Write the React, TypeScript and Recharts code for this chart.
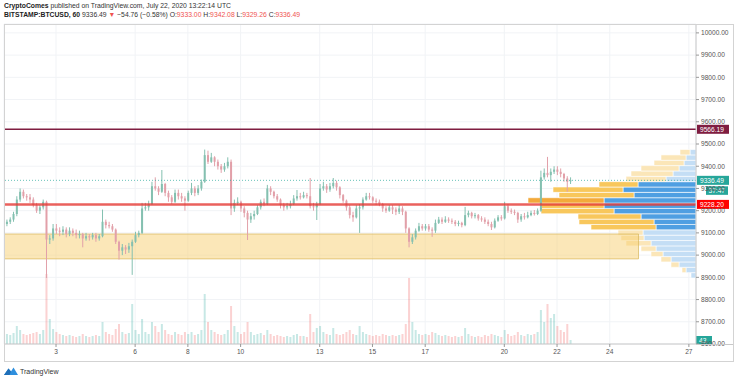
import React from "react";
import { ComposedChart, Bar, XAxis, YAxis, CartesianGrid, ReferenceLine, ReferenceArea } from "recharts";

// ---- data (3h candles from July 1 00:00 UTC) ----
const START_DAY = 1;
const CANDLES_PER_DAY = 8;

const opens = [
  9130, 9140, 9150, 9160, 9185, 9250, 9285, 9265,
  9260, 9250, 9225, 9200, 9215, 9240, 9070, 9075,
  9120, 9110, 9105, 9115, 9095, 9110, 9100, 9090,
  9095, 9075, 9085, 9080, 9090, 9075, 9085, 9150,
  9135, 9130, 9115, 9060, 9020, 9035, 9025, 9040,
  9060, 9090, 9100, 9210, 9215, 9230, 9310, 9300,
  9285, 9320, 9280, 9260, 9240, 9280, 9265, 9255,
  9245, 9280, 9300, 9280, 9300, 9330, 9450, 9420,
  9440, 9420, 9400, 9385, 9400, 9420, 9210, 9235,
  9240, 9210, 9190, 9160, 9175, 9185, 9215, 9240,
  9230, 9300, 9285, 9265, 9250, 9225, 9215, 9220,
  9230, 9255, 9265, 9260, 9270, 9265, 9220, 9215,
  9230, 9300, 9310, 9295, 9310, 9325, 9305, 9270,
  9245, 9215, 9180, 9170, 9210, 9215, 9250, 9265,
  9260, 9245, 9240, 9230, 9210, 9200, 9215, 9205,
  9195, 9210, 9195, 9120, 9060, 9080, 9110, 9130,
  9120, 9130, 9115, 9110, 9145, 9160, 9150, 9160,
  9155, 9150, 9140, 9145, 9135, 9180, 9190, 9175,
  9180, 9165, 9160, 9150, 9140, 9125, 9155, 9170,
  9165, 9220, 9200, 9195, 9190, 9160, 9175, 9170,
  9180, 9190, 9185, 9200, 9350, 9370, 9360, 9375,
  9385, 9375, 9365, 9345, 9333,
];
const highs = [
  9150, 9160, 9170, 9195, 9265, 9300, 9295, 9275,
  9275, 9260, 9235, 9225, 9250, 9245, 9090, 9140,
  9140, 9125, 9130, 9125, 9125, 9120, 9115, 9110,
  9100, 9100, 9095, 9100, 9100, 9095, 9205, 9160,
  9150, 9140, 9120, 9065, 9050, 9045, 9055, 9070,
  9105, 9110, 9235, 9235, 9245, 9330, 9350, 9310,
  9383, 9325, 9290, 9270, 9295, 9295, 9280, 9265,
  9290, 9325, 9310, 9315, 9340, 9475, 9470, 9460,
  9445, 9430, 9410, 9415, 9440, 9430, 9250, 9260,
  9245, 9220, 9200, 9190, 9200, 9225, 9250, 9255,
  9316, 9310, 9290, 9275, 9255, 9235, 9235, 9245,
  9270, 9293, 9280, 9285, 9280, 9347, 9235, 9240,
  9320, 9330, 9320, 9325, 9347, 9335, 9310, 9275,
  9250, 9225, 9195, 9225, 9230, 9260, 9280, 9280,
  9265, 9255, 9250, 9235, 9220, 9225, 9225, 9215,
  9225, 9220, 9200, 9125, 9095, 9120, 9145, 9140,
  9140, 9140, 9125, 9160, 9172, 9170, 9175, 9170,
  9165, 9158, 9155, 9150, 9217, 9200, 9195, 9190,
  9185, 9175, 9170, 9160, 9150, 9165, 9180, 9180,
  9240, 9230, 9210, 9205, 9195, 9185, 9190, 9195,
  9200, 9203, 9210, 9380, 9390, 9442, 9390, 9400,
  9400, 9390, 9370, 9355, 9350,
];
const lows = [
  9115, 9130, 9140, 9150, 9175, 9240, 9255, 9245,
  9235, 9215, 9190, 9185, 9205, 8897, 9050, 9065,
  9095, 9085, 9090, 9080, 9085, 9085, 9075, 9075,
  9035, 9065, 9065, 9070, 9060, 9065, 9080, 9120,
  9120, 9105, 9050, 8980, 9000, 9005, 9010, 8911,
  9055, 9080, 9095, 9200, 9200, 9225, 9290, 9270,
  9280, 9265, 9240, 9230, 9235, 9250, 9240, 9200,
  9240, 9270, 9265, 9270, 9290, 9325, 9410, 9415,
  9400, 9385, 9370, 9375, 9390, 9180, 9195, 9225,
  9195, 9170, 9068, 9145, 9160, 9180, 9205, 9220,
  9225, 9270, 9255, 9240, 9210, 9200, 9205, 9210,
  9225, 9245, 9250, 9255, 9255, 9210, 9200, 9158,
  9225, 9290, 9280, 9285, 9300, 9290, 9255, 9235,
  9200, 9165, 9150, 9165, 9100, 9205, 9245, 9250,
  9235, 9225, 9220, 9195, 9190, 9195, 9185, 9180,
  9185, 9180, 9100, 9035, 9050, 9070, 9105, 9110,
  9110, 9105, 9082, 9100, 9140, 9140, 9145, 9145,
  9140, 9130, 9130, 9125, 9130, 9170, 9165, 9165,
  9155, 9150, 9140, 9130, 9113, 9120, 9150, 9155,
  9160, 9190, 9185, 9180, 9145, 9150, 9160, 9165,
  9175, 9178, 9180, 9195, 9340, 9350, 9330, 9365,
  9360, 9350, 9330, 9285, 9320,
];
const closes = [
  9140, 9150, 9160, 9185, 9250, 9285, 9265, 9260,
  9250, 9225, 9200, 9215, 9240, 9070, 9075, 9120,
  9110, 9105, 9115, 9095, 9110, 9100, 9090, 9095,
  9075, 9085, 9080, 9090, 9075, 9085, 9150, 9135,
  9130, 9115, 9060, 9020, 9035, 9025, 9040, 9060,
  9090, 9100, 9210, 9215, 9230, 9310, 9300, 9285,
  9320, 9280, 9260, 9240, 9280, 9265, 9255, 9245,
  9280, 9300, 9280, 9300, 9330, 9450, 9420, 9440,
  9420, 9400, 9385, 9400, 9420, 9210, 9235, 9240,
  9210, 9190, 9160, 9175, 9185, 9215, 9240, 9230,
  9300, 9285, 9265, 9250, 9225, 9215, 9220, 9230,
  9255, 9265, 9260, 9270, 9265, 9220, 9215, 9230,
  9300, 9310, 9295, 9310, 9325, 9305, 9270, 9245,
  9215, 9180, 9170, 9210, 9215, 9250, 9265, 9260,
  9245, 9240, 9230, 9210, 9200, 9215, 9205, 9195,
  9210, 9195, 9120, 9060, 9080, 9110, 9130, 9120,
  9130, 9115, 9110, 9145, 9160, 9150, 9160, 9155,
  9150, 9140, 9145, 9135, 9180, 9190, 9175, 9180,
  9165, 9160, 9150, 9140, 9125, 9155, 9170, 9165,
  9220, 9200, 9195, 9190, 9160, 9175, 9170, 9180,
  9190, 9185, 9200, 9350, 9370, 9360, 9375, 9385,
  9375, 9365, 9345, 9330, 9336.49,
];
const volumes = [
  12, 10, 9, 11, 18, 14, 10, 9,
  10, 11, 12, 10, 14, 70, 25, 15,
  12, 10, 9, 8, 9, 8, 7, 8,
  10, 8, 7, 8, 9, 8, 22, 12,
  10, 9, 15, 20, 12, 10, 11, 40,
  14, 10, 25, 12, 10, 22, 18, 12,
  20, 14, 10, 9, 12, 10, 9, 12,
  10, 12, 9, 10, 14, 50, 22, 14,
  12, 10, 9, 10, 14, 38, 18, 12,
  10, 12, 22, 12, 9, 10, 11, 9,
  14, 10, 8, 9, 8, 7, 8, 7,
  9, 10, 8, 8, 7, 30, 12, 16,
  18, 12, 10, 9, 16, 10, 9, 10,
  12, 14, 10, 9, 18, 12, 10, 9,
  8, 9, 8, 10, 9, 8, 9, 8,
  9, 10, 20, 66, 22, 14, 10, 9,
  10, 9, 12, 11, 9, 8, 9, 8,
  7, 8, 7, 8, 16, 10, 8, 7,
  8, 7, 9, 8, 10, 9, 8, 7,
  14, 10, 8, 9, 12, 9, 8, 10,
  9, 10, 12, 34, 22, 40, 26, 30,
  18, 14, 12, 20, 4,
];
const lastVolumeLabel = "43";

// axis ticks
const dayTicks = [3, 6, 8, 10, 13, 15, 17, 20, 22, 24, 27];
const priceTicks = [8600, 8700, 8800, 8900, 9000, 9100, 9200, 9300, 9400, 9500, 9600, 9700, 9800, 9900, 10000];
const priceDomain = [8600, 10040];
const dayDomain = [1.027, 27.27];

// horizontal levels
const resistanceLevel = 9566.19;
const supportLevel = 9228.2;
const lastPrice = 9336.49;
const countdown = "37:47";

// demand zone rectangle
const zoneStartDay = 1.03;
const zoneEndDay = 25.09;
const zoneLow = 8983;
const zoneHigh = 9095;

// volume profile (visible range), rows from low to high
const vpLow = 8897;
const vpHigh = 9475;
const vpUp = [5, 10, 17, 25, 33, 40, 45, 52, 53, 40, 42, 55, 82, 92, 92, 62, 73, 58, 30, 23, 17, 12, 10, 6];
const vpDown = [0, 4, 8, 10, 12, 15, 25, 23, 25, 65, 75, 63, 73, 63, 76, 75, 70, 39, 40, 42, 38, 30, 25, 10];
const vaFirst = 9;
const vaLast = 17;
const pocRow = 14;

const UP = "#84c0b0";
const DOWN = "#e2a0a9";

const data = closes.map((c, i) => ({
  t: START_DAY + i / CANDLES_PER_DAY,
  o: opens[i],
  h: highs[i],
  l: lows[i],
  c,
  range: [lows[i], highs[i]],
  v: volumes[i],
}));

const Candle = (props: any) => {
  const { x, y, width, height, payload } = props;
  if (!payload || !isFinite(y) || !isFinite(height)) return null;
  const { o, h, l, c } = payload;
  const top = height < 0 ? y + height : y;
  const hh = Math.abs(height);
  const k = hh / (h - l || 1);
  const yo = top + (h - o) * k;
  const yc = top + (h - c) * k;
  const bTop = Math.min(yo, yc);
  const bH = Math.max(1, Math.abs(yc - yo));
  const col = c >= o ? UP : DOWN;
  const cx = x + width / 2;
  return (
    <g>
      <line x1={cx} x2={cx} y1={top} y2={top + hh} stroke={col} strokeWidth={1} />
      <rect x={x} y={bTop} width={width} height={bH} fill={col} />
    </g>
  );
};

const VolBar = (props: any) => {
  const { x, y, width, height, payload } = props;
  if (!payload || !isFinite(y)) return null;
  const col = payload.c >= payload.o ? "#26a69a" : "#ef5350";
  const top = height < 0 ? y + height : y;
  return <rect x={x} y={top} width={width} height={Math.abs(height)} fill={col} fillOpacity={0.26} />;
};

const tag = (text: string, fill: string, extra?: string) => (props: any) => {
  const vb = props.viewBox || {};
  const x = (vb.x || 0) + (vb.width || 0);
  const y = vb.y || 0;
  return (
    <g>
      <rect x={x + 1} y={y - 4.5} width={32} height={9} fill={fill} />
      <text x={x + 4} y={y + 2.4} fontSize={6.6} fill="#fff" fontFamily="Liberation Sans, Arial, sans-serif">{text}</text>
      {extra ? (
        <g>
          <rect x={x + 10} y={y + 6} width={22} height={8.5} fill={fill} />
          <text x={x + 12.5} y={y + 12.6} fontSize={6.6} fill="#fff" fontFamily="Liberation Sans, Arial, sans-serif">{extra}</text>
        </g>
      ) : null}
    </g>
  );
};

const volTag = (text: string) => (props: any) => {
  const vb = props.viewBox || {};
  const x = (vb.x || 0) + (vb.width || 0);
  const y = vb.y || 0;
  return (
    <g>
      <rect x={x} y={y - 4} width={16} height={8.5} fill="#26a69a" />
      <text x={x + 3} y={y + 2.6} fontSize={6.6} fill="#fff" fontFamily="Liberation Sans, Arial, sans-serif">{text}</text>
    </g>
  );
};

const rowSize = (vpHigh - vpLow) / vpUp.length;

export default function App() {
  const font = "Liberation Sans, Arial, sans-serif";
  const red = "#ef5350";
  return (
    <div style={{ position: "absolute", left: 0, top: 0, width: 736, height: 381, background: "#fff", fontFamily: font, overflow: "hidden" }}>
      <div style={{ position: "absolute", left: 4, top: 1.5, fontSize: 6.8, color: "#333", whiteSpace: "nowrap" }}>
        <b style={{ color: "#222" }}>CryptoComes</b> published on TradingView.com, July 22, 2020 13:22:14 UTC
      </div>
      <div style={{ position: "absolute", left: 4, top: 10.5, fontSize: 6.8, color: "#333", whiteSpace: "nowrap" }}>
        <b style={{ color: "#222" }}>BITSTAMP:BTCUSD, 60</b> 9336.49 <span style={{ color: red }}>▼</span> −54.76 (−0.58%) O:<span style={{ color: red }}>9333.00</span> H:<span style={{ color: red }}>9342.08</span> L:<span style={{ color: red }}>9329.26</span> C:<span style={{ color: red }}>9336.49</span>
      </div>
      <div style={{ position: "absolute", left: 0, top: 0 }}>
        <ComposedChart width={736} height={381} data={data} margin={{ top: 24, right: 0, bottom: 20, left: 4 }}>
          <CartesianGrid xAxisId="t" yAxisId="price" stroke="#f1f3f6" strokeWidth={1} />
          <XAxis
            xAxisId="t"
            dataKey="t"
            type="number"
            domain={dayDomain}
            ticks={dayTicks}
            allowDataOverflow
            height={17}
            tickSize={3}
            tickLine={{ stroke: "#999" }}
            axisLine={{ stroke: "#c8c8c8" }}
            tick={{ fontSize: 6.6, fill: "#555", fontFamily: font }}
            interval={0}
          />
          <XAxis xAxisId="tv" dataKey="t" type="number" domain={dayDomain} allowDataOverflow hide />
          <XAxis xAxisId="vp" dataKey="t" type="number" domain={[0, 692]} allowDataOverflow reversed hide />
          <YAxis
            yAxisId="price"
            orientation="right"
            width={40}
            domain={priceDomain}
            ticks={priceTicks}
            allowDataOverflow
            tickFormatter={(v: number) => v.toFixed(2)}
            tickSize={3}
            tickLine={{ stroke: "#999" }}
            axisLine={{ stroke: "#c8c8c8" }}
            tick={{ fontSize: 6.6, fill: "#555", fontFamily: font }}
            interval={0}
          />
          <YAxis yAxisId="vol" domain={[0, 320]} allowDataOverflow hide />

          <Bar xAxisId="tv" yAxisId="vol" dataKey="v" barSize={2} shape={VolBar} isAnimationActive={false} />
          <Bar xAxisId="t" yAxisId="price" dataKey="range" barSize={2} shape={Candle} isAnimationActive={false} />

          {vpUp.map((u, k) => {
            const inVA = k >= vaFirst && k <= vaLast;
            const blue = inVA ? "#4f9fe2" : "#c4def5";
            const yellow = k === pocRow ? "#f3a93a" : inVA ? "#f8c75c" : "#fbe6b8";
            const y1 = vpLow + k * rowSize;
            const y2 = y1 + rowSize;
            return (
              <React.Fragment key={"vp" + k}>
                <ReferenceArea xAxisId="vp" yAxisId="price" x1={0} x2={u} y1={y1} y2={y2} fill={blue} fillOpacity={1} stroke="#fff" strokeWidth={0.6} ifOverflow="hidden" />
                {vpDown[k] > 0 ? (
                  <ReferenceArea xAxisId="vp" yAxisId="price" x1={u} x2={u + vpDown[k]} y1={y1} y2={y2} fill={yellow} fillOpacity={1} stroke="#fff" strokeWidth={0.6} ifOverflow="hidden" />
                ) : null}
              </React.Fragment>
            );
          })}

          <ReferenceArea
            xAxisId="t"
            yAxisId="price"
            x1={zoneStartDay}
            x2={zoneEndDay}
            y1={zoneLow}
            y2={zoneHigh}
            fill="#f8cf72"
            fillOpacity={0.5}
            stroke="#d9b75a"
            strokeOpacity={0.7}
            strokeWidth={1}
            ifOverflow="hidden"
          />

          <ReferenceLine xAxisId="t" yAxisId="price" y={resistanceLevel} stroke="#7f1d40" strokeWidth={1.5} label={tag(resistanceLevel.toFixed(2), "#7f1d40")} />
          <ReferenceLine xAxisId="t" yAxisId="price" y={lastPrice} stroke="#26a69a" strokeOpacity={0.7} strokeWidth={1} strokeDasharray="1 2" label={tag(lastPrice.toFixed(2), "#26a69a", countdown)} />
          <ReferenceLine xAxisId="t" yAxisId="price" y={supportLevel} stroke="#e53935" strokeOpacity={0.8} strokeWidth={2.5} label={tag(supportLevel.toFixed(2), "#ff0000")} />
          <ReferenceLine xAxisId="tv" yAxisId="vol" y={volumes[volumes.length - 1]} stroke="none" strokeOpacity={0} label={volTag(lastVolumeLabel)} />
        </ComposedChart>
      </div>
      {/* frame */}
      <div style={{ position: "absolute", left: 4, top: 24, width: 728, height: 336, border: "1px solid #d3d3d3", pointerEvents: "none" }} />
      <div style={{ position: "absolute", left: 696, top: 344, width: 37, height: 1, background: "#c8c8c8" }} />
      {/* TradingView logo */}
      <div style={{ position: "absolute", left: 4, top: 366, display: "flex", alignItems: "center" }}>
        <svg width={14} height={10} viewBox="0 0 14 10">
          <path d="M0 9 L4.5 2.5 L7 5.5 L9.5 1.5 L14 9 Z" fill="#2e8fde" />
          <path d="M4.5 2.5 L7 5.5 L5.5 9 L0 9 Z" fill="#1f6fb8" />
        </svg>
        <span style={{ fontSize: 7, color: "#333", marginLeft: 2 }}>TradingView</span>
      </div>
    </div>
  );
}
